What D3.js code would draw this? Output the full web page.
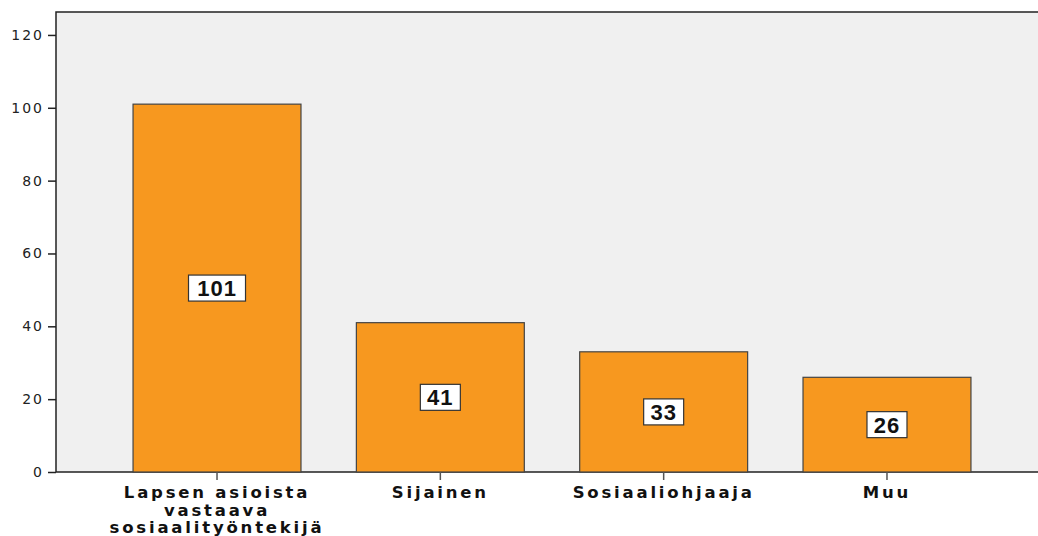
<!DOCTYPE html>
<html>
<head>
<meta charset="utf-8">
<script src="https://cdn.jsdelivr.net/npm/d3@7"></script>
<style>
  body { margin: 0; background: #fff; }
  svg { display: block; }
  .tick text { font-family: "DejaVu Sans", sans-serif; }
</style>
</head>
<body>
<div id="chart"></div>
<script>
const categories = [['Lapsen asioista', 'vastaava', 'sosiaalityöntekijä'], ['Sijainen'], ['Sosiaaliohjaaja'], ['Muu']];
const values = [101, 41, 33, 26];
const yTicks = [0, 20, 40, 60, 80, 100, 120];

// dimensions
const width = 1038;
const height = 536;
const margin = { top: 12, right: -10, bottom: 64, left: 56 };
const innerW = width - margin.left - margin.right;
const innerH = height - margin.top - margin.bottom;

const svg = d3.select('#chart')
  .append('svg')
  .attr('width', width)
  .attr('height', height);

const g = svg.append('g')
  .attr('transform', `translate(${margin.left}, ${margin.top})`);

const x = d3.scaleBand()
  .domain(d3.range(values.length))
  .range([0, innerW])
  .paddingInner(0.248)
  .paddingOuter(0.345);

const y = d3.scaleLinear()
  .domain([0, 126.3])
  .range([innerH, 0]);

// plot background
g.append('rect')
  .attr('width', innerW)
  .attr('height', innerH)
  .attr('fill', '#f0f0f0')
  .attr('stroke', '#222')
  .attr('stroke-width', 1.5);

// bars
g.selectAll('.bar')
  .data(values)
  .enter().append('rect')
  .attr('class', 'bar')
  .attr('x', (d, i) => x(i))
  .attr('y', d => y(d))
  .attr('width', x.bandwidth())
  .attr('height', d => innerH - y(d))
  .attr('fill', '#f7981f')
  .attr('stroke', '#444')
  .attr('stroke-width', 1.2);

// value labels
const lab = g.selectAll('.lab')
  .data(values)
  .enter().append('g')
  .attr('class', 'lab')
  .attr('transform', (d, i) => `translate(${x(i) + x.bandwidth() / 2}, ${y(d / 2)})`);

lab.append('rect')
  .attr('x', d => -(String(d).length * 8.5 + 3))
  .attr('y', -13)
  .attr('width', d => (String(d).length * 8.5 + 3) * 2)
  .attr('height', 26)
  .attr('fill', '#fff')
  .attr('stroke', '#333')
  .attr('stroke-width', 1.2);

lab.append('text')
  .attr('text-anchor', 'middle')
  .attr('dy', '0.36em')
  .attr('font-family', '"Liberation Sans", Arial, sans-serif')
  .attr('font-weight', 'bold')
  .attr('font-size', 22)
  .attr('letter-spacing', 1)
  .attr('fill', '#111')
  .text(d => d);

// y axis
const yAxis = g.append('g')
  .call(d3.axisLeft(y).tickValues(yTicks).tickSize(8).tickPadding(4));
yAxis.select('.domain').remove();
yAxis.selectAll('.tick line').attr('stroke', '#222').attr('stroke-width', 1.5);
yAxis.selectAll('.tick text')
  .attr('font-size', 14)
  .attr('letter-spacing', 2)
  .attr('fill', '#222');

// x axis
const xAxis = g.append('g')
  .attr('transform', `translate(0, ${innerH})`)
  .call(d3.axisBottom(x).tickSize(8).tickFormat(''));
xAxis.select('.domain').remove();
xAxis.selectAll('.tick line').attr('stroke', '#555').attr('stroke-width', 1.5);

xAxis.selectAll('.tick')
  .append('text')
  .attr('fill', '#111')
  .attr('font-size', 16.5)
  .attr('font-weight', 'bold')
  .attr('letter-spacing', 2.8)
  .attr('text-anchor', 'middle')
  .selectAll('tspan')
  .data(i => categories[i])
  .enter().append('tspan')
  .attr('x', 0)
  .attr('y', (d, k) => 26 + k * 17.5)
  .text(d => d);
</script>
</body>
</html>
